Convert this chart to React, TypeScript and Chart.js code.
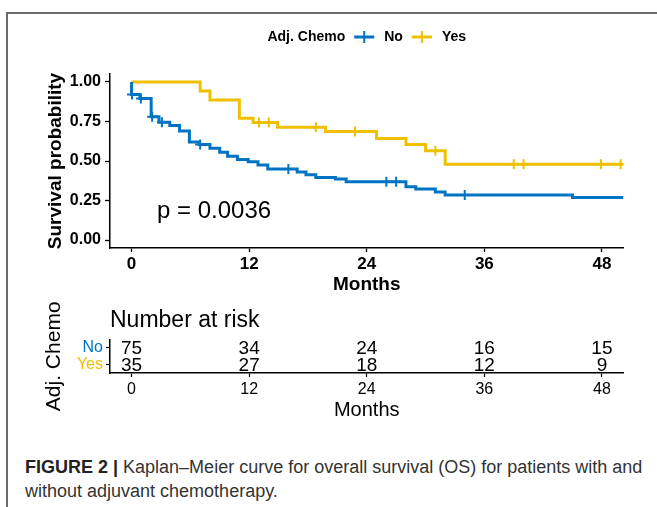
import React, { useEffect, useRef } from 'react';
import { Chart, registerables } from 'chart.js';

Chart.register(...registerables);

const FONT = '"Liberation Sans", Arial, Helvetica, sans-serif';
const BLUE = '#0073C2';
const YELLOW = '#EFC000';

// ---- data ----
const legendTitle = 'Adj. Chemo';
const groups = ['No', 'Yes'];

const noTimes = [0, 0.85, 2.0, 2.8, 3.9, 4.9, 5.9, 6.9, 8.0, 9.0, 9.8, 10.8, 11.9, 12.9, 13.9, 16.9, 17.8, 18.8, 20.8, 21.9, 28.0, 29.0, 31.0, 32.0, 45.0];
const noSurv = [0.92, 0.895, 0.78, 0.745, 0.725, 0.69, 0.62, 0.605, 0.58, 0.555, 0.53, 0.51, 0.495, 0.475, 0.45, 0.43, 0.413, 0.396, 0.386, 0.369, 0.338, 0.323, 0.304, 0.285, 0.27];
const noCensor = [0.05, 0.95, 2.1, 3.1, 7.0, 16.0, 26.0, 27.0, 34.0];

const yesTimes = [7.0, 8.0, 11.0, 12.4, 14.9, 19.8, 25.0, 28.0, 30.0, 32.0];
const yesSurv = [0.943, 0.886, 0.771, 0.743, 0.714, 0.686, 0.643, 0.605, 0.565, 0.48];
const yesCensor = [13.0, 14.0, 18.8, 22.8, 31.0, 39.0, 40.0, 47.9, 49.9];

const followEnd = 50.2;
const xTicks = [0, 12, 24, 36, 48];
const yTicks = [0, 0.25, 0.5, 0.75, 1];

const riskTimes = [0, 12, 24, 36, 48];
const riskNo = [75, 34, 24, 16, 15];
const riskYes = [35, 27, 18, 12, 9];

const pValueText = 'p = 0.0036';
const pValueAt = { t: 2.6, s: 0.184 };

const X_MIN = -2.2;
const X_MAX = 50.2;

function stepSeries(times: number[], surv: number[], end: number) {
  const pts: { x: number; y: number }[] = [{ x: 0, y: 1 }];
  times.forEach((t, i) => pts.push({ x: t, y: surv[i] }));
  pts.push({ x: end, y: surv[surv.length - 1] });
  return pts;
}

function survAt(times: number[], surv: number[], t: number) {
  let s = 1;
  for (let i = 0; i < times.length; i++) if (times[i] <= t) s = surv[i];
  return s;
}

const legendPlugin = {
  id: 'kmLegend',
  afterDraw(chart: any) {
    const { ctx, chartArea } = chart;
    ctx.save();
    ctx.font = `bold 14px ${FONT}`;
    ctx.textBaseline = 'middle';
    ctx.fillStyle = '#000';
    const items = [
      { label: groups[0], color: BLUE },
      { label: groups[1], color: YELLOW },
    ];
    const keyW = 20;
    const titleW = ctx.measureText(legendTitle).width;
    let total = titleW;
    items.forEach((it) => {
      total += 9 + keyW + 10 + ctx.measureText(it.label).width;
    });
    let x = (chartArea.left + chartArea.right) / 2 - total / 2;
    const y = 37;
    ctx.fillText(legendTitle, x, y);
    x += titleW;
    items.forEach((it) => {
      x += 9;
      ctx.strokeStyle = it.color;
      ctx.lineWidth = 3;
      ctx.beginPath();
      ctx.moveTo(x, y);
      ctx.lineTo(x + keyW, y);
      ctx.stroke();
      ctx.lineWidth = 2;
      ctx.beginPath();
      ctx.moveTo(x + keyW / 2, y - 6);
      ctx.lineTo(x + keyW / 2, y + 6);
      ctx.stroke();
      x += keyW + 10;
      ctx.fillStyle = '#000';
      ctx.fillText(it.label, x, y);
      x += ctx.measureText(it.label).width;
    });
    ctx.restore();
  },
};

const pValuePlugin = {
  id: 'pValue',
  afterDatasetsDraw(chart: any) {
    const { ctx, scales } = chart;
    ctx.save();
    ctx.font = `24px ${FONT}`;
    ctx.fillStyle = '#000';
    ctx.textAlign = 'left';
    ctx.textBaseline = 'middle';
    ctx.fillText(pValueText, scales.x.getPixelForValue(pValueAt.t), scales.y.getPixelForValue(pValueAt.s));
    ctx.restore();
  },
};

const riskTextPlugin = {
  id: 'riskText',
  afterDatasetsDraw(chart: any) {
    const { ctx } = chart;
    ctx.save();
    ctx.font = `19px ${FONT}`;
    ctx.fillStyle = '#000';
    ctx.textAlign = 'center';
    ctx.textBaseline = 'middle';
    chart.data.datasets.forEach((ds: any, di: number) => {
      const meta = chart.getDatasetMeta(di);
      meta.data.forEach((el: any, i: number) => {
        ctx.fillText(String(ds.data[i].n), el.x, el.y + 1);
      });
    });
    ctx.restore();
  },
};

function KMChart() {
  const ref = useRef<HTMLCanvasElement>(null);
  useEffect(() => {
    const censorPoint = (times: number[], surv: number[], c: number[]) =>
      c.map((t) => ({ x: t, y: survAt(times, surv, t) }));
    const chart = new Chart(ref.current!, {
      type: 'line',
      data: {
        datasets: [
          {
            label: groups[0],
            data: stepSeries(noTimes, noSurv, followEnd),
            borderColor: BLUE,
            borderWidth: 3,
            stepped: 'before',
            pointRadius: 0,
            fill: false,
          },
          {
            label: groups[1],
            data: stepSeries(yesTimes, yesSurv, followEnd),
            borderColor: YELLOW,
            borderWidth: 3,
            stepped: 'before',
            pointRadius: 0,
            fill: false,
          },
          {
            label: groups[0] + ' censored',
            data: censorPoint(noTimes, noSurv, noCensor),
            showLine: false,
            pointStyle: 'cross',
            pointRadius: 5,
            pointBorderWidth: 2,
            pointBorderColor: BLUE,
            borderColor: BLUE,
          },
          {
            label: groups[1] + ' censored',
            data: censorPoint(yesTimes, yesSurv, yesCensor),
            showLine: false,
            pointStyle: 'cross',
            pointRadius: 5,
            pointBorderWidth: 2,
            pointBorderColor: YELLOW,
            borderColor: YELLOW,
          },
        ],
      },
      options: {
        animation: false,
        responsive: false,
        maintainAspectRatio: false,
        layout: { padding: { top: 74, right: 33.5, left: 0, bottom: 0 } },
        plugins: {
          legend: { display: false },
          tooltip: { enabled: false },
        },
        scales: {
          x: {
            type: 'linear',
            min: X_MIN,
            max: X_MAX,
            afterBuildTicks: (s: any) => {
              s.ticks = xTicks.map((v) => ({ value: v }));
            },
            grid: { display: true, drawOnChartArea: false, drawTicks: true, tickLength: 4, tickWidth: 1.3, tickColor: '#000' },
            border: { display: true, color: '#000', width: 1.5 },
            ticks: { color: '#000', font: { family: FONT, size: 17, weight: 'bold' }, padding: 2, maxRotation: 0, autoSkip: false },
            title: { display: true, text: 'Months', color: '#000', font: { family: FONT, size: 19, weight: 'bold' }, padding: { top: 0, bottom: 4 } },
            afterFit: (s: any) => {
              s.height = 52;
            },
          },
          y: {
            type: 'linear',
            min: -0.05,
            max: 1.05,
            afterBuildTicks: (s: any) => {
              s.ticks = yTicks.map((v) => ({ value: v }));
            },
            grid: { display: true, drawOnChartArea: false, drawTicks: true, tickLength: 5, tickWidth: 1.3, tickColor: '#000' },
            border: { display: true, color: '#000', width: 1.5 },
            ticks: {
              color: '#000',
              font: { family: FONT, size: 16, weight: 'bold' },
              padding: 4,
              autoSkip: false,
              callback: (v: any) => Number(v).toFixed(2),
            },
            title: { display: true, text: 'Survival probability', color: '#000', font: { family: FONT, size: 19, weight: 'bold' }, padding: { top: 44, bottom: 0 } },
            afterFit: (s: any) => {
              s.width = 110;
            },
          },
        },
      } as any,
      plugins: [legendPlugin, pValuePlugin],
    });
    return () => chart.destroy();
  }, []);
  return <canvas ref={ref} width={657} height={300} style={{ position: 'absolute', left: 0, top: 0, width: 657, height: 300 }} />;
}

function RiskTable() {
  const ref = useRef<HTMLCanvasElement>(null);
  useEffect(() => {
    const rows = [riskNo, riskYes];
    const chart = new Chart(ref.current!, {
      type: 'scatter',
      data: {
        datasets: rows.map((counts, gi) => ({
          label: groups[gi],
          data: riskTimes.map((t, i) => ({ x: t, y: groups[gi], n: counts[i] })),
          pointRadius: 0,
          showLine: false,
        })),
      },
      options: {
        animation: false,
        responsive: false,
        maintainAspectRatio: false,
        layout: { padding: { top: 0, right: 33.5, left: 0, bottom: 0 } },
        plugins: {
          legend: { display: false },
          tooltip: { enabled: false },
          title: {
            display: true,
            text: 'Number at risk',
            align: 'start',
            fullSize: false,
            color: '#000',
            font: { family: FONT, size: 23, weight: 'normal' },
            padding: { top: 17, bottom: 5 },
          },
        },
        scales: {
          x: {
            type: 'linear',
            min: X_MIN,
            max: X_MAX,
            afterBuildTicks: (s: any) => {
              s.ticks = xTicks.map((v) => ({ value: v }));
            },
            grid: { display: true, drawOnChartArea: false, drawTicks: true, tickLength: 4, tickWidth: 1.2, tickColor: '#000' },
            border: { display: true, color: '#000', width: 1.5 },
            ticks: { color: '#000', font: { family: FONT, size: 16 }, padding: 3, maxRotation: 0, autoSkip: false },
            title: { display: true, text: 'Months', color: '#000', font: { family: FONT, size: 20 }, padding: { top: 0, bottom: 3 } },
            afterFit: (s: any) => {
              s.height = 52;
            },
          },
          y: {
            type: 'category',
            labels: groups,
            offset: true,
            grid: { display: true, drawOnChartArea: false, drawTicks: true, tickLength: 4, tickWidth: 1.2, tickColor: '#000', offset: false },
            border: { display: true, color: '#000', width: 1.5 },
            ticks: {
              color: (c: any) => (c.index === 0 ? BLUE : YELLOW),
              font: { family: FONT, size: 16 },
              padding: 3,
              autoSkip: false,
            },
            title: { display: true, text: 'Adj. Chemo', color: '#000', font: { family: FONT, size: 21 }, padding: { top: 42, bottom: 0 } },
            afterFit: (s: any) => {
              s.width = 110;
            },
          },
        },
      } as any,
      plugins: [riskTextPlugin],
    });
    return () => chart.destroy();
  }, []);
  return <canvas ref={ref} width={657} height={135} style={{ position: 'absolute', left: 0, top: 290, width: 657, height: 135 }} />;
}

export default function App() {
  return (
    <div style={{ position: 'absolute', left: 0, top: 0, width: 657, height: 507, background: '#fff', overflow: 'hidden' }}>
      <div
        style={{
          position: 'absolute',
          left: 6,
          top: 12,
          right: 0,
          bottom: 0,
          borderTop: '2px solid #6a6a6a',
          borderLeft: '2px solid #6a6a6a',
        }}
      />
      <KMChart />
      <RiskTable />
      <div
        style={{
          position: 'absolute',
          left: 25,
          top: 455,
          width: 630,
          fontFamily: FONT,
          fontSize: 18,
          lineHeight: '24px',
          color: '#333',
          whiteSpace: 'nowrap',
        }}
      >
        <span style={{ fontWeight: 'bold', color: '#222' }}>FIGURE 2 |</span> Kaplan–Meier curve for overall survival (OS) for patients with and
        <br />
        without adjuvant chemotherapy.
      </div>
    </div>
  );
}
